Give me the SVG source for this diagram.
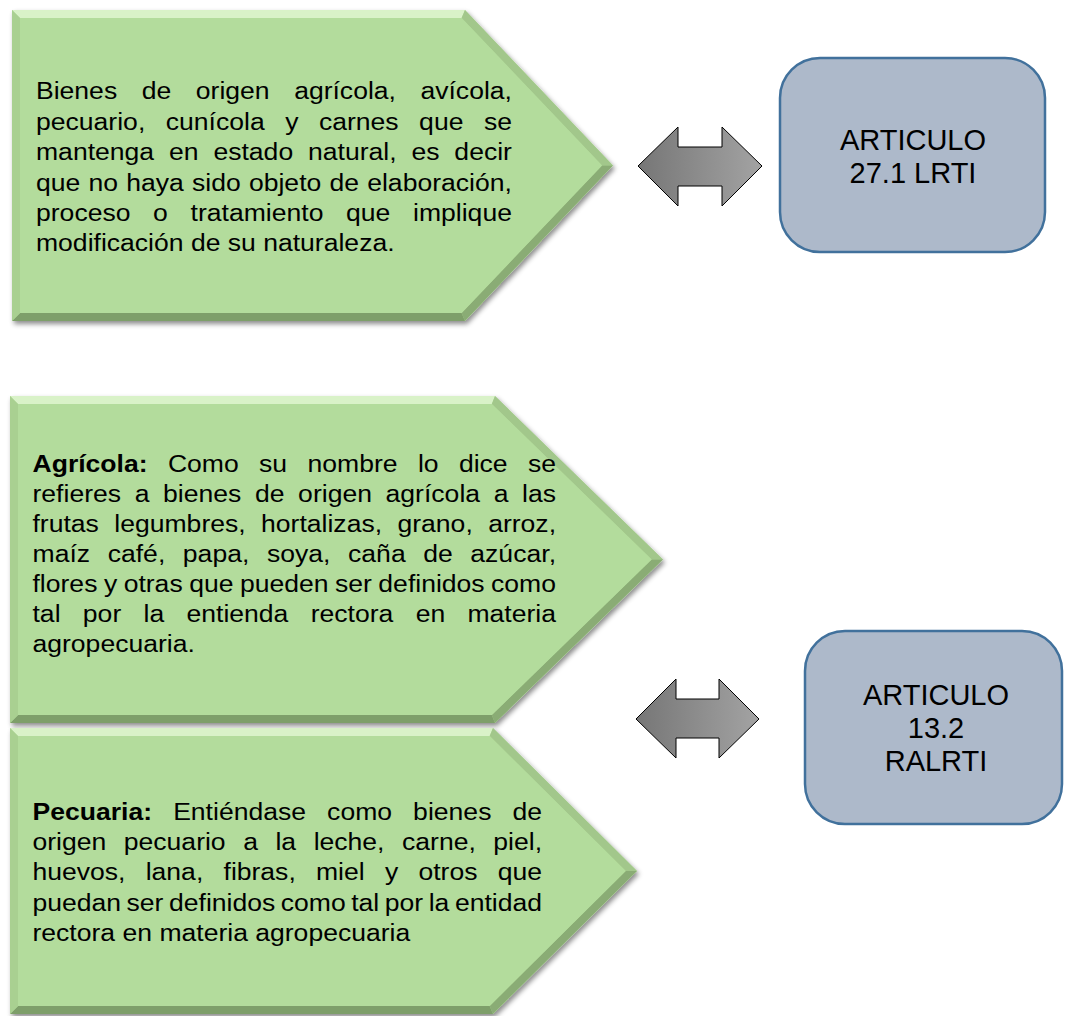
<svg xmlns="http://www.w3.org/2000/svg" width="1065" height="1016" viewBox="0 0 1065 1016">
<defs>
<filter id="sh" x="-10%" y="-10%" width="120%" height="120%">
<feDropShadow dx="2" dy="3" stdDeviation="2.5" flood-color="#000" flood-opacity="0.45"/>
</filter>
<linearGradient id="ag" x1="0" y1="0" x2="1" y2="0">
<stop offset="0" stop-color="#767676"/>
<stop offset="1" stop-color="#a3a3a3"/>
</linearGradient>
</defs>
<style>
.fill{fill:#b3dc9c}
.ft{fill:#d9f2c8}
.fur{fill:#a2c78b}
.flr{fill:#8aac75}
.fb{fill:#7e9f6a}
.fl{fill:#a9d091}
.txt{font-family:"Liberation Sans",Arial,sans-serif;font-size:23.5px;fill:#000}
.b{font-weight:bold}
.arr{fill:url(#ag);stroke:#000;stroke-width:1}
.box{fill:#adb9ca;stroke:#41719c;stroke-width:2.5}
.bt{font-family:"Liberation Sans",Arial,sans-serif;font-size:29px;fill:#000;text-anchor:middle}
</style>

<g id="node-bienes">
<polygon class="fill" filter="url(#sh)" points="12,10 465,10 613,165.5 465,321 12,321"/>
<polygon class="ft" points="12,10 465,10 461.6,18 20,18"/>
<polygon class="fur" points="465,10 613,165.5 602,165.5 461.6,18"/>
<polygon class="flr" points="613,165.5 465,321 461.6,313 602,165.5"/>
<polygon class="fb" points="465,321 12,321 20,313 461.6,313"/>
<polygon class="fl" points="12,321 12,10 20,18 20,313"/>
<polygon class="fill" points="20,18 461.6,18 602,165.5 461.6,313 20,313"/>
<g class="txt" transform="translate(36 0) scale(1.13 1)">
<text x="0" y="99.5" word-spacing="15.2" textLength="421.2" lengthAdjust="spacing">Bienes de origen agrícola, avícola,</text>
<text x="0" y="130" word-spacing="11.6" textLength="421.2" lengthAdjust="spacing">pecuario, cunícola y carnes que se</text>
<text x="0" y="160.5" word-spacing="6.6" textLength="421.2" lengthAdjust="spacing">mantenga en estado natural, es decir</text>
<text x="0" y="191" word-spacing="0.7" textLength="421.2" lengthAdjust="spacing">que no haya sido objeto de elaboración,</text>
<text x="0" y="221" word-spacing="13.5" textLength="421.2" lengthAdjust="spacing">proceso o tratamiento que implique</text>
<text x="0" y="251.5">modificación de su naturaleza.</text>
</g>
</g>

<g id="node-agricola">
<polygon class="fill" filter="url(#sh)" points="10,396 495,396 663,559.5 495,723 10,723"/>
<polygon class="ft" points="10,396 495,396 491.8,404 18,404"/>
<polygon class="fur" points="495,396 663,559.5 651.6,559.5 491.8,404"/>
<polygon class="flr" points="663,559.5 495,723 491.8,715 651.6,559.5"/>
<polygon class="fb" points="495,723 10,723 18,715 491.8,715"/>
<polygon class="fl" points="10,723 10,396 18,404 18,715"/>
<polygon class="fill" points="18,404 491.8,404 651.6,559.5 491.8,715 18,715"/>
<g class="txt" transform="translate(32.5 0) scale(1.13 1)">
<text x="0" y="472" word-spacing="11.5" textLength="463.3" lengthAdjust="spacing"><tspan class="b">Agrícola:</tspan> Como su nombre lo dice se</text>
<text x="0" y="502" word-spacing="5.5" textLength="463.3" lengthAdjust="spacing">refieres a bienes de origen agrícola a las</text>
<text x="0" y="532" word-spacing="7.1" textLength="463.3" lengthAdjust="spacing">frutas legumbres, hortalizas, grano, arroz,</text>
<text x="0" y="562" word-spacing="8.9" textLength="463.3" lengthAdjust="spacing">maíz café, papa, soya, caña de azúcar,</text>
<text x="0" y="592" word-spacing="-0.8" textLength="463.3" lengthAdjust="spacing">flores y otras que pueden ser definidos como</text>
<text x="0" y="622" word-spacing="13.2" textLength="463.3" lengthAdjust="spacing">tal por la entienda rectora en materia</text>
<text x="0" y="652">agropecuaria.</text>
</g>
</g>

<g id="node-pecuaria">
<polygon class="fill" filter="url(#sh)" points="10,728 493,728 637,871 493,1014 10,1014"/>
<polygon class="ft" points="10,728 493,728 489.7,736 18,736"/>
<polygon class="fur" points="493,728 637,871 625.7,871 489.7,736"/>
<polygon class="flr" points="637,871 493,1014 489.7,1006 625.7,871"/>
<polygon class="fb" points="493,1014 10,1014 18,1006 489.7,1006"/>
<polygon class="fl" points="10,1014 10,728 18,736 18,1006"/>
<polygon class="fill" points="18,736 489.7,736 625.7,871 489.7,1006 18,1006"/>
<g class="txt" transform="translate(32.5 0) scale(1.13 1)">
<text x="0" y="820" word-spacing="12.1" textLength="450.9" lengthAdjust="spacing"><tspan class="b">Pecuaria:</tspan> Entiéndase como bienes de</text>
<text x="0" y="850" word-spacing="9.0" textLength="450.9" lengthAdjust="spacing">origen pecuario a la leche, carne, piel,</text>
<text x="0" y="880" word-spacing="11.4" textLength="450.9" lengthAdjust="spacing">huevos, lana, fibras, miel y otros que</text>
<text x="0" y="911" word-spacing="-1.6" textLength="450.9" lengthAdjust="spacing">puedan ser definidos como tal por la entidad</text>
<text x="0" y="941">rectora en materia agropecuaria</text>
</g>
</g>

<g id="node-art27">
<rect class="box" x="780" y="58" width="265" height="194" rx="40" ry="40"/>
<text class="bt" x="913" y="150">ARTICULO</text>
<text class="bt" x="913" y="183">27.1 LRTI</text>
</g>

<g id="node-art13">
<rect class="box" x="805" y="631" width="257" height="193" rx="40" ry="40"/>
<text class="bt" x="936" y="705">ARTICULO</text>
<text class="bt" x="936" y="738">13.2</text>
<text class="bt" x="936" y="771">RALRTI</text>
</g>

<g id="connectors">
<polygon class="arr" points="638,166 678,127 678,147 722,147 722,127 762,166 722,206 722,186 678,186 678,206"/>
<polygon class="arr" points="636,719 676,679 676,699 719,699 719,679 759,719 719,758 719,738 676,738 676,758"/>
</g>
</svg>
